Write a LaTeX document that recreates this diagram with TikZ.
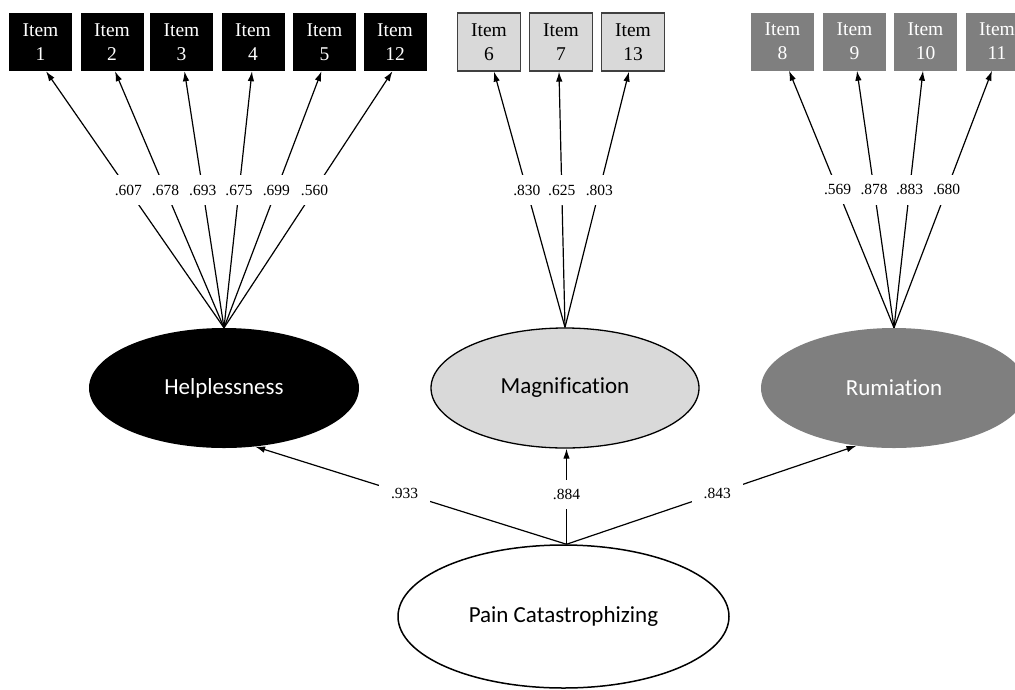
\documentclass[tikz,border=0pt]{standalone}
\usepackage{fontspec}
\setmainfont{Liberation Serif}
\newfontfamily\calib[Ligatures=NoCommon]{Carlito}
\usetikzlibrary{shapes.geometric,arrows.meta}
\definecolor{lgray}{HTML}{D9D9D9}
\definecolor{dgray}{HTML}{7F7F7F}
\begin{document}
\begin{tikzpicture}[x=1pt,y=-1pt,
  item/.style={rectangle, minimum width=63pt, minimum height=58pt, inner sep=0pt, align=center, font=\fontsize{19.5}{24}\selectfont},
  hbox/.style={item, fill=black, text=white},
  mbox/.style={item, fill=lgray, draw=black!75, line width=1.2pt},
  rbox/.style={item, fill=dgray, text=white},
  lat/.style={ellipse, inner sep=0pt, font=\calib\fontsize{23}{28}\selectfont},
  load/.style={line width=1.2pt, -{Latex[length=10pt,width=6.5pt]}},
  lab/.style={fill=white, inner xsep=1.5pt, inner ysep=9.5pt, font=\fontsize{15.5}{18}\selectfont, pos=0.537},
  lab2/.style={fill=white, inner xsep=12pt, inner ysep=9.5pt, font=\fontsize{15.5}{18}\selectfont, pos=0.52}]
\useasboundingbox (0,0) rectangle (1015,689);
\clip (0,0) rectangle (1015,689);
% indicator boxes
\node[hbox] (i1) at (40.5,42) {Item\\1};
\node[hbox] (i2) at (112,42) {Item\\2};
\node[hbox] (i3) at (181.5,42) {Item\\3};
\node[hbox] (i4) at (253,42) {Item\\4};
\node[hbox] (i5) at (324.5,42) {Item\\5};
\node[hbox] (i12) at (395,42) {Item\\12};
\node[mbox] (i6) at (489,42) {Item\\6};
\node[mbox] (i7) at (561,42) {Item\\7};
\node[mbox] (i13) at (633,42) {Item\\13};
\node[rbox] (i8) at (782.5,41.5) {Item\\8};
\node[rbox] (i9) at (854.5,41.5) {Item\\9};
\node[rbox] (i10) at (925.5,41.5) {Item\\10};
\node[rbox] (i11) at (997,41.5) {Item\\11};
% latent variables
\node[lat, fill=black, text=white, minimum width=270pt, minimum height=120pt] (help) at (224,388) {Helplessness};
\node[lat, fill=lgray, draw=black, line width=1.3pt, minimum width=268pt, minimum height=120pt] (mag) at (565,388) {Magnification};
\node[lat, fill=dgray, text=white, minimum width=266pt, minimum height=120pt] (rum) at (894,388) {Rumiation};
\node[lat, fill=white, draw=black, line width=1.5pt, minimum width=331pt, minimum height=143pt] (pain) at (563.5,616.5) {Pain Catastrophizing};
% loadings
\draw[load] (help.north) -- node[lab]{.607} ([xshift=5.5pt]i1.south);
\draw[load] (help.north) -- node[lab]{.678} ([xshift=3pt]i2.south);
\draw[load] (help.north) -- node[lab]{.693} ([xshift=3pt]i3.south);
\draw[load] (help.north) -- node[lab]{.675} ([xshift=-1pt]i4.south);
\draw[load] (help.north) -- node[lab]{.699} ([xshift=-3pt]i5.south);
\draw[load] (help.north) -- node[lab]{.560} ([xshift=-2.5pt]i12.south);
\draw[load] (mag.north) -- node[lab]{.830} ([xshift=5pt]i6.south);
\draw[load] (mag.north) -- node[lab]{.625} ([xshift=-2pt]i7.south);
\draw[load] (mag.north) -- node[lab]{.803} ([xshift=-4pt]i13.south);
\draw[load] (rum.north) -- node[lab]{.569} ([xshift=6.5pt]i8.south);
\draw[load] (rum.north) -- node[lab]{.878} ([xshift=2.5pt]i9.south);
\draw[load] (rum.north) -- node[lab]{.883} ([xshift=-2.5pt]i10.south);
\draw[load] (rum.north) -- node[lab]{.680} ([xshift=-5pt]i11.south);
% second-order paths
\coordinate (po) at ([xshift=3pt]pain.north);
\draw[load] (po) -- node[lab2]{.933} (help.-62.7);
\draw[load] (po) -- node[lab2]{.884} (po |- mag.south);
\draw[load] (po) -- node[lab2]{.843} (rum.-123);
\end{tikzpicture}
\end{document}
